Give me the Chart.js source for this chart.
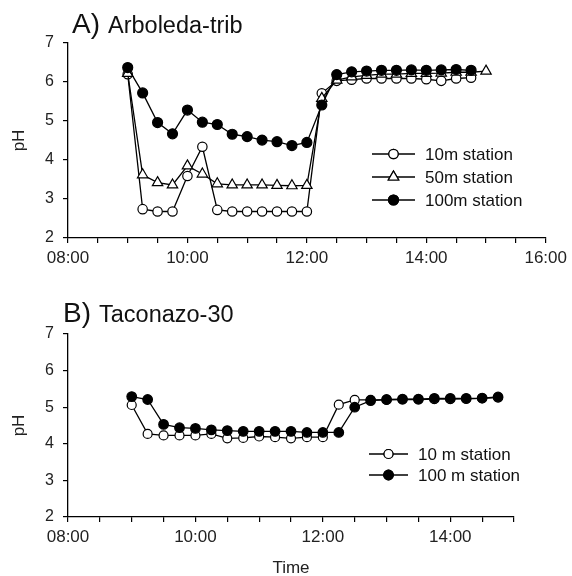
<!DOCTYPE html>
<html>
<head>
<meta charset="utf-8">
<script src="https://cdn.jsdelivr.net/npm/chart.js@4.4.1/dist/chart.umd.min.js"></script>
<style>
  body { margin: 0; background: #fff; }
  .panel { position: absolute; left: 0; width: 572px; }
  #panelA { top: 0; height: 290px; }
  #panelB { top: 290px; height: 286px; }
</style>
</head>
<body>
<div class="panel" id="panelA"><canvas id="chartA"></canvas></div>
<div class="panel" id="panelB"><canvas id="chartB"></canvas></div>
<script>
// sampling times (every 15 min)
const timesA = ["09:00","09:15","09:30","09:45","10:00","10:15","10:30","10:45","11:00","11:15","11:30","11:45",
  "12:00","12:15","12:30","12:45","13:00","13:15","13:30","13:45","14:00","14:15","14:30","14:45","15:00"];
const timesB = ["09:00","09:15","09:30","09:45","10:00","10:15","10:30","10:45","11:00","11:15","11:30","11:45",
  "12:00","12:15","12:30","12:45","13:00","13:15","13:30","13:45","14:00","14:15","14:30","14:45"];

// A) Arboleda-trib
const ph10A = [6.20, 2.74, 2.68, 2.68, 3.59, 4.34, 2.72, 2.68, 2.68, 2.68, 2.68, 2.68,
  2.68, 5.71, 6.03, 6.06, 6.09, 6.09, 6.09, 6.09, 6.07, 6.03, 6.09, 6.11];
const ph50A = [6.22, 3.62, 3.42, 3.36, 3.85, 3.64, 3.39, 3.36, 3.36, 3.36, 3.35, 3.34,
  3.35, 5.58, 6.05, 6.13, 6.17, 6.20, 6.20, 6.22, 6.22, 6.23, 6.25, 6.25, 6.28];
const ph100A = [6.37, 5.72, 4.96, 4.67, 5.28, 4.97, 4.91, 4.66, 4.60, 4.51, 4.47, 4.37,
  4.45, 5.41, 6.19, 6.26, 6.28, 6.30, 6.30, 6.31, 6.30, 6.31, 6.32, 6.30];

// B) Taconazo-30
const ph10B = [5.06, 4.27, 4.23, 4.23, 4.23, 4.27, 4.15, 4.16, 4.20, 4.18, 4.15, 4.18,
  4.18, 5.07, 5.20, 5.20, 5.20, 5.21, 5.21, 5.22, 5.22, 5.23, 5.24, 5.26];
const ph100B = [5.29, 5.21, 4.53, 4.44, 4.42, 4.38, 4.36, 4.34, 4.34, 4.34, 4.34, 4.31,
  4.31, 4.31, 5.00, 5.18, 5.21, 5.22, 5.22, 5.24, 5.24, 5.24, 5.25, 5.28];

const yTicks = [2, 3, 4, 5, 6, 7];

function toHours(t) {
  const p = t.split(":");
  return Number(p[0]) + Number(p[1]) / 60;
}
function hhmm(v) {
  const h = Math.floor(v);
  return (h < 10 ? "0" : "") + h + ":00";
}
function pts(times, values) {
  return values.map((v, i) => ({ x: toHours(times[i]), y: v }));
}

const FONT = "'Liberation Sans', Arial, sans-serif";

function series(label, data, style, order) {
  return {
    label: label,
    data: data,
    order: order,
    borderColor: "#000",
    borderWidth: 1.3,
    pointStyle: style.shape,
    pointRadius: style.r,
    pointBorderWidth: 1.2,
    pointBorderColor: "#000",
    pointBackgroundColor: style.fill,
    _legendStyle: style,
  };
}

const openCircle = { shape: "circle", r: 4.7, fill: "#fff" };
const openTriangle = { shape: "triangle", r: 6, fill: "#fff" };
const filledCircle = { shape: "circle", r: 5, fill: "#000" };

// title + legend drawn on the canvas
const panelDecor = {
  id: "panelDecor",
  afterDraw(chart, args, opts) {
    const ctx = chart.ctx;
    ctx.save();
    ctx.fillStyle = "#111";
    ctx.textBaseline = "alphabetic";
    ctx.font = "28px " + FONT;
    ctx.fillText(opts.letter, opts.titleX, opts.titleY);
    ctx.font = "23.5px " + FONT;
    ctx.fillText(opts.title, opts.titleX + 36, opts.titleY);

    const L = opts.legend;
    chart.data.datasets.forEach((ds, i) => {
      const y = L.y + i * L.dy;
      ctx.strokeStyle = "#000";
      ctx.lineWidth = 1.3;
      ctx.beginPath();
      ctx.moveTo(L.x0, y);
      ctx.lineTo(L.x1, y);
      ctx.stroke();
      const st = ds._legendStyle;
      ctx.fillStyle = st.fill;
      ctx.lineWidth = 1.2;
      Chart.helpers.drawPoint(ctx, { pointStyle: st.shape, radius: st.r, borderWidth: 1.2 }, (L.x0 + L.x1) / 2, y);
      ctx.fill();
      ctx.stroke();
      ctx.fillStyle = "#111";
      ctx.font = "17px " + FONT;
      ctx.textBaseline = "middle";
      ctx.fillText(opts.labels[i], L.tx, y + 1);
    });
    ctx.restore();
  },
};

function makeChart(id, datasets, xMax, area, decor, showTime) {
  const canvas = document.getElementById(id);
  const h = canvas.parentNode.clientHeight;
  return new Chart(canvas, {
    type: "line",
    data: { datasets: datasets },
    options: {
      responsive: true,
      maintainAspectRatio: false,
      animation: false,
      devicePixelRatio: 1,
      layout: { padding: { left: 0, right: 572 - area.right, top: area.top, bottom: 0 } },
      plugins: {
        legend: { display: false },
        tooltip: { enabled: false },
        panelDecor: decor,
      },
      scales: {
        x: {
          type: "linear",
          min: 8,
          max: xMax,
          afterBuildTicks(scale) {
            const t = [];
            for (let v = 8; v <= xMax + 1e-9; v += 0.5) t.push({ value: v });
            scale.ticks = t;
          },
          afterFit(scale) { scale.height = h - area.bottom; },
          ticks: {
            autoSkip: false,
            maxRotation: 0,
            padding: 5,
            color: "#222",
            font: { family: FONT, size: 17 },
            callback: (v) => (v % 2 === 0 ? hhmm(v) : ""),
          },
          grid: { drawOnChartArea: false, drawTicks: true, tickLength: 5, color: "#000", lineWidth: 1.2 },
          border: { display: true, color: "#000", width: 1.3 },
          title: {
            display: showTime,
            text: "Time",
            color: "#222",
            font: { family: FONT, size: 17 },
            padding: { top: 9, bottom: -3 },
          },
        },
        y: {
          min: 2,
          max: 7,
          afterBuildTicks(scale) { scale.ticks = yTicks.map((v) => ({ value: v })); },
          afterFit(scale) { scale.width = area.left; },
          ticks: {
            padding: 9,
            color: "#222",
            font: { family: FONT, size: 16 },
          },
          grid: { drawOnChartArea: false, drawTicks: true, tickLength: 5, color: "#000", lineWidth: 1.2 },
          border: { display: true, color: "#000", width: 1.3 },
          title: {
            display: true,
            text: "pH",
            color: "#222",
            font: { family: FONT, size: 17 },
            padding: { top: 9, bottom: 0 },
          },
        },
      },
    },
    plugins: [panelDecor],
  });
}

makeChart("chartA", [
  series("10m station", pts(timesA, ph10A), openCircle, 2),
  series("50m station", pts(timesA, ph50A), openTriangle, 1),
  series("100m station", pts(timesA, ph100A), filledCircle, 0),
], 16, { left: 68, right: 548, top: 43, bottom: 238 }, {
  letter: "A)", title: "Arboleda-trib", titleX: 72, titleY: 33,
  labels: ["10m station", "50m station", "100m station"],
  legend: { x0: 372, x1: 415, tx: 425, y: 154, dy: 23 },
}, false);

makeChart("chartB", [
  series("10 m station", pts(timesB, ph10B), { shape: "circle", r: 4.5, fill: "#fff" }, 1),
  series("100 m station", pts(timesB, ph100B), { shape: "circle", r: 4.8, fill: "#000" }, 0),
], 15, { left: 68, right: 514, top: 44, bottom: 227 }, {
  letter: "B)", title: "Taconazo-30", titleX: 63, titleY: 32,
  labels: ["10 m station", "100 m station"],
  legend: { x0: 369, x1: 408, tx: 418, y: 164, dy: 21 },
}, true);
</script>
</body>
</html>
